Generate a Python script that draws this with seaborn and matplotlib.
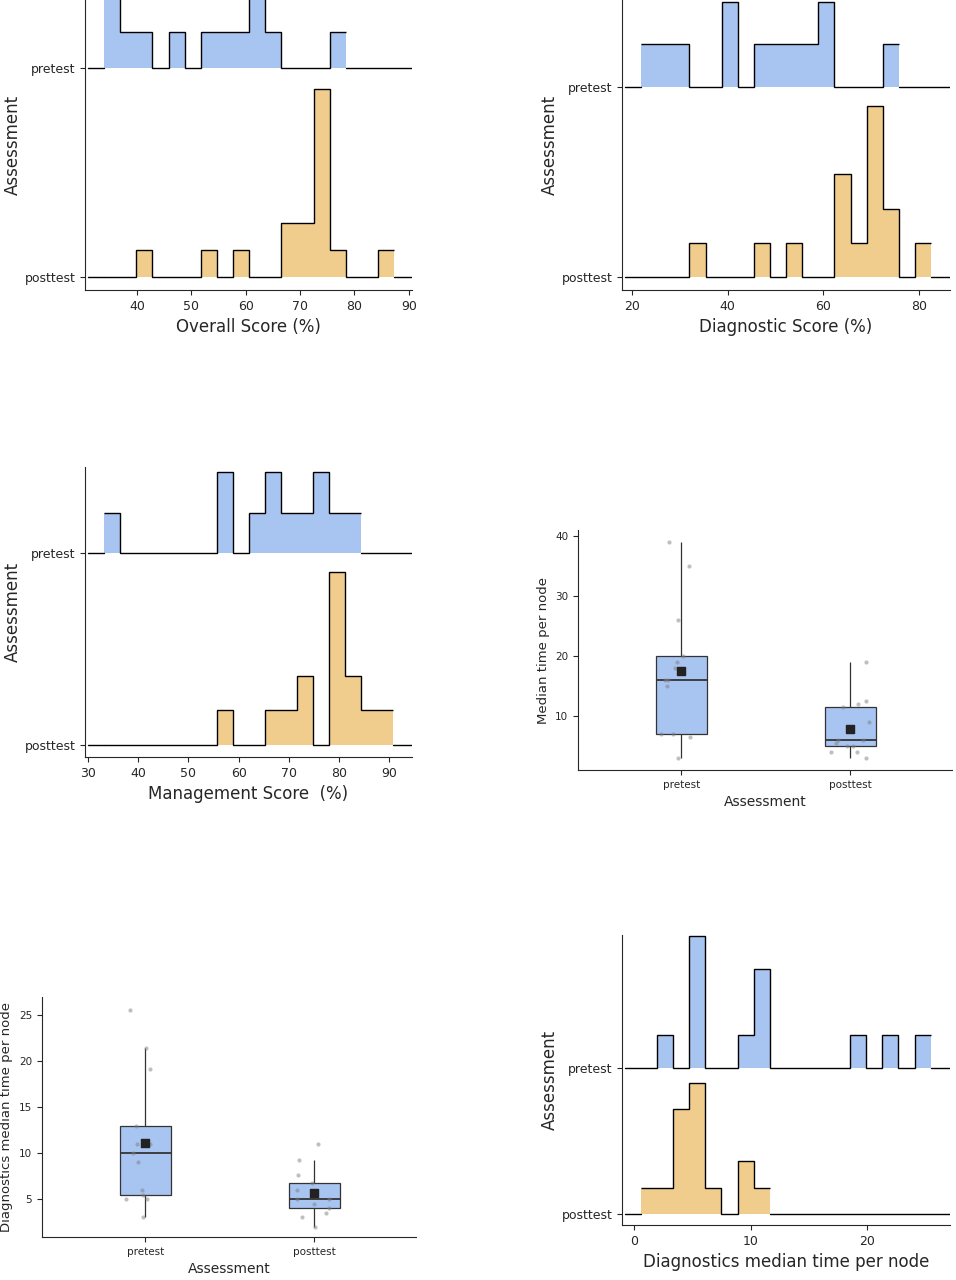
import numpy as np
import pandas as pd
import matplotlib
matplotlib.use("Agg")
import matplotlib.pyplot as plt
import seaborn as sns

sns.set_style("ticks")
plt.rcParams['font.family'] = ['DejaVu Sans']

BLUE = "#a8c4f0"
ORANGE = "#f1cd8d"

# ---- ridgeline histogram data (bin start, bin width, counts) ----
overall_start, overall_w = 33.9, 2.97
overall_pre = [2, 1, 1, 0, 1, 0, 1, 1, 1, 2, 1, 0, 0, 0, 1]
overall_post = [0, 0, 1, 0, 0, 0, 1, 0, 1, 0, 0, 2, 2, 7, 1, 0, 0, 1]

diag_start, diag_w = 21.9, 3.37
diag_pre = [1, 1, 1, 0, 0, 2, 0, 1, 1, 1, 1, 2, 0, 0, 0, 1]
diag_post = [0, 0, 0, 1, 0, 0, 0, 1, 0, 1, 0, 0, 3, 1, 5, 2, 0, 1]

mgmt_start, mgmt_w = 33.2, 3.2
mgmt_pre = [1, 0, 0, 0, 0, 0, 0, 2, 0, 1, 2, 1, 1, 2, 1, 1]
mgmt_post = [0, 0, 0, 0, 0, 0, 0, 1, 0, 0, 1, 1, 2, 0, 5, 2, 1, 1]

dtime_start, dtime_w = 0.6, 1.38
dtime_pre = [0, 1, 0, 4, 0, 0, 1, 3, 0, 0, 0, 0, 0, 1, 0, 1, 0, 1]
dtime_post = [1, 1, 4, 5, 1, 0, 2, 1]

# ---- boxplot data ----
median_time_pre = [3, 6.5, 7, 7, 15, 16, 16, 18, 19, 20, 26, 35, 39]
median_time_post = [3, 4, 4, 5, 5, 5.5, 6, 6, 9, 11.5, 12, 12.5, 19]
diag_time_pre = [3, 5, 5, 5.4, 6, 9, 10, 11, 11, 13, 19.2, 21.4, 25.6]
diag_time_post = [2, 3, 3.5, 4, 4.5, 5, 5, 5.5, 6, 6.7, 7.6, 9.3, 11]

groups = ["pretest", "posttest"]

W, H = 956, 1280
fig = plt.figure(figsize=(W / 100, H / 100), dpi=100)


def add_ax(l, r, t, b):
    return fig.add_axes([l / W, 1 - b / H, (r - l) / W, (b - t) / H])


def ridge(ax, start, w, pre, post, xlim, ylim, xticks, xlabel):
    hp = np.array(pre) / sum(pre)
    hq = np.array(post) / sum(post)
    s = 0.9 / max(hp.max(), hq.max())
    for base, h, col in [(1, hp * s, BLUE), (0, hq * s, ORANGE)]:
        edges = start + w * np.arange(len(h) + 1)
        ax.stairs(h + base, edges, baseline=base, fill=True, color=col, lw=0)
        ax.stairs(h + base, edges, baseline=None, color="black", lw=1)
        ax.plot([xlim[0] + 0.01 * (xlim[1] - xlim[0]), edges[0]], [base, base], color="black", lw=1)
        ax.plot([edges[-1], xlim[1]], [base, base], color="black", lw=1)
    ax.set_xlim(*xlim)
    ax.set_ylim(*ylim)
    ax.set_yticks([1, 0])
    ax.set_yticklabels(groups, fontsize=9)
    ax.set_xticks(xticks)
    ax.tick_params(axis="x", labelsize=9)
    ax.set_xlabel(xlabel, fontsize=12)
    ax.set_ylabel("Assessment", fontsize=12, labelpad=2)
    sns.despine(ax=ax)


ax1 = add_ax(85, 412, 0, 290)
ridge(ax1, overall_start, overall_w, overall_pre, overall_post, (30.4, 90.6), (-0.062, 1.325),
      [40, 50, 60, 70, 80, 90], "Overall Score (%)")
ax2 = add_ax(622, 950, 0, 290)
ridge(ax2, diag_start, diag_w, diag_pre, diag_post, (17.9, 86.5), (-0.068, 1.458),
      [20, 40, 60, 80], "Diagnostic Score (%)")
ax3 = add_ax(85, 412, 467, 757)
ridge(ax3, mgmt_start, mgmt_w, mgmt_pre, mgmt_post, (29.4, 94.5), (-0.0625, 1.448),
      [30, 40, 50, 60, 70, 80, 90], "Management Score  (%)")
ax6 = add_ax(622, 950, 935, 1225)
ridge(ax6, dtime_start, dtime_w, dtime_pre, dtime_post, (-1.03, 27.1), (-0.075, 1.91),
      [0, 10, 20], "Diagnostics median time per node")


def box(ax, pre, post, ylim, yticks, ylabel, seed):
    df = pd.DataFrame({"Assessment": ["pretest"] * len(pre) + ["posttest"] * len(post),
                       "v": pre + post})
    sns.boxplot(data=df, x="Assessment", y="v", order=groups, ax=ax, width=0.3,
                color=BLUE, showfliers=False, linewidth=0.9,
                boxprops=dict(facecolor=BLUE, edgecolor="#333333"),
                medianprops=dict(color="#333333", lw=1.3),
                whiskerprops=dict(color="#333333"), capprops=dict(lw=0))
    np.random.seed(seed)
    sns.stripplot(data=df, x="Assessment", y="v", order=groups, ax=ax, jitter=0.12,
                  color="grey", alpha=0.5, size=3, zorder=3)
    means = df.groupby("Assessment")["v"].mean().reindex(groups)
    ax.scatter([0, 1], means.values, marker="s", color="#222222", s=30, zorder=4)
    ax.set_xlim(-0.61, 1.6)
    ax.set_ylim(*ylim)
    ax.set_yticks(yticks)
    ax.tick_params(labelsize=7.5)
    ax.set_xlabel("Assessment", fontsize=10)
    ax.set_ylabel(ylabel, fontsize=9.5)
    sns.despine(ax=ax)


ax4 = add_ax(578, 952, 530, 770)
box(ax4, median_time_pre, median_time_post, (1, 41), [10, 20, 30, 40], "Median time per node", 1)
ax5 = add_ax(42, 416, 997, 1237)
box(ax5, diag_time_pre, diag_time_post, (0.87, 27), [5, 10, 15, 20, 25],
    "Diagnostics median time per node", 2)

fig.savefig("out.png", dpi=100)
